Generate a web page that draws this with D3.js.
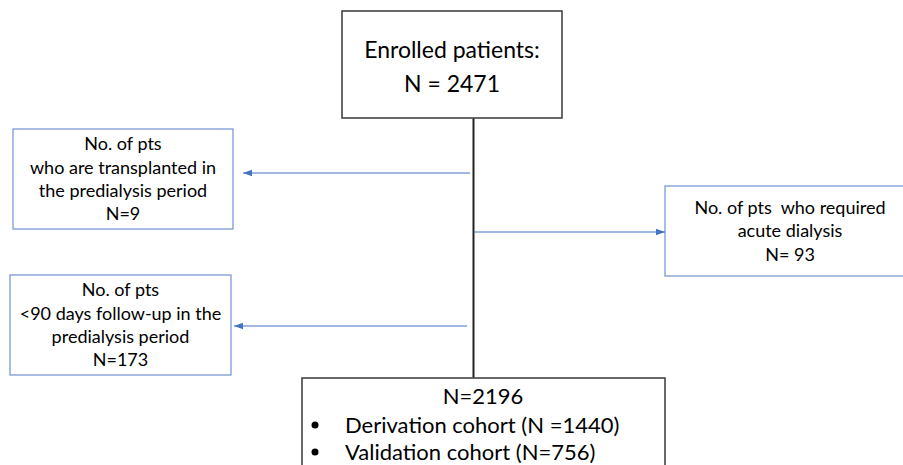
<!DOCTYPE html>
<html><head><meta charset="utf-8">
<script src="https://cdn.jsdelivr.net/npm/d3@7"></script>
<style>body{margin:0;background:#fff}svg{display:block}text{font-family:Lato,"Open Sans",sans-serif;fill:#000;white-space:pre}</style>
</head><body><svg id="c" width="903" height="465"></svg>
<script>
// ---- data ----
const enrolledLabel = ["Enrolled patients:", "N = 2471"];
const enrolledN = 2471;
const exclusionLabels = [
  ["No. of pts", "who are transplanted in", "the predialysis period", "N=9"],
  ["No. of pts  who required", "acute dialysis", "N= 93"],
  ["No. of pts", "<90 days follow-up in the", "predialysis period", "N=173"]
];
const exclusionN = [9, 93, 173];
const exclusionSide = ["left", "right", "left"];
const finalLabel = "N=2196";
const cohortNames = ["Derivation cohort (N =1440)", "Validation cohort (N=756)"];
const cohortN = [1440, 756];

// ---- layout ----
const svg = d3.select("#c");
const dark = "#444", blue = "#4472C4", boxBlue = "#7b9ad6";
const defs = svg.append("defs");
defs.append("marker").attr("id","ah").attr("viewBox","0 0 10 10").attr("refX",10).attr("refY",5)
  .attr("markerWidth",9).attr("markerHeight",9).attr("markerUnits","userSpaceOnUse").attr("orient","auto")
  .append("path").attr("d","M0,1.5L10,5L0,8.5Z").attr("fill",blue);

const spineX = 473.5;
svg.append("line").attr("x1",spineX).attr("x2",spineX).attr("y1",118).attr("y2",378)
  .attr("stroke","#222").attr("stroke-width",2);

// top box
svg.append("rect").attr("x",342).attr("y",11).attr("width",220).attr("height",107)
  .attr("fill","#fff").attr("stroke",dark).attr("stroke-width",1.6);
const topY = d3.scalePoint().domain(d3.range(enrolledLabel.length)).range([50,84]);
svg.selectAll("text.top").data(enrolledLabel).join("text").attr("class","top")
  .attr("x",452).attr("y",(d,i)=>topY(i)).attr("dy","0.35em").attr("text-anchor","middle")
  .attr("font-size",23).text(d=>d);

// exclusion boxes
const boxes = [
  {x:13,y:129,w:220,h:100,arrowY:173,from:470,to:243},
  {x:665,y:186,w:245,h:90,arrowY:232,from:474,to:665},
  {x:10,y:275,w:221,h:100,arrowY:326,from:467,to:234}
];
exclusionLabels.forEach((lines,k)=>{
  const b = boxes[k];
  svg.append("rect").attr("x",b.x).attr("y",b.y).attr("width",b.w).attr("height",b.h)
    .attr("fill","#fff").attr("stroke",boxBlue).attr("stroke-width",1.3);
  const cx = k===1 ? 790 : b.x + b.w/2;
  const step = 23.3;
  const y0 = b.y + b.h/2 - step*(lines.length-1)/2;
  svg.selectAll("text.ex"+k).data(lines).join("text").attr("class","ex"+k)
    .attr("x",cx).attr("y",(d,i)=>y0+i*step).attr("dy","0.35em").attr("text-anchor","middle")
    .attr("font-size",18).text(d=>d);
  svg.append("line").attr("x1",b.from).attr("x2",b.to).attr("y1",b.arrowY).attr("y2",b.arrowY)
    .attr("stroke",blue).attr("stroke-width",1).attr("marker-end","url(#ah)");
});

// bottom box
svg.append("rect").attr("x",302).attr("y",378).attr("width",363).attr("height",120)
  .attr("fill","#fff").attr("stroke",dark).attr("stroke-width",1.6);
svg.append("text").attr("x",483).attr("y",396).attr("dy","0.35em").attr("text-anchor","middle")
  .attr("font-size",22).text(finalLabel);
const cy = d3.scalePoint().domain(cohortNames).range([425,452]);
svg.selectAll("circle.b").data(cohortNames).join("circle").attr("class","b")
  .attr("cx",315).attr("cy",d=>cy(d)).attr("r",3.5).attr("fill","#000");
svg.selectAll("text.coh").data(cohortNames).join("text").attr("class","coh")
  .attr("x",345).attr("y",d=>cy(d)).attr("dy","0.35em").attr("font-size",22).text(d=>d);
</script></body></html>
